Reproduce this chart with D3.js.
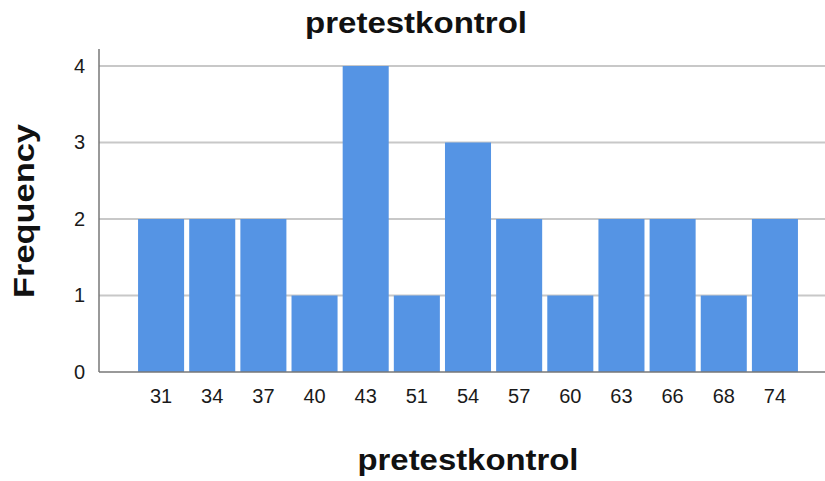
<!DOCTYPE html>
<html lang="en">
<head>
    <meta charset="UTF-8">
    <title>pretestkontrol</title>
    <script src="https://d3js.org/d3.v7.min.js"></script>
    <style>
        body { margin: 0; background: #fff; font-family: Arial, "Liberation Sans", sans-serif; }
    </style>
</head>
<body>
    <div id="chart"></div>
    <script>
        // Data
        const scores = ["31", "34", "37", "40", "43", "51", "54", "57", "60", "63", "66", "68", "74"];
        const counts = [2, 2, 2, 1, 4, 1, 3, 2, 1, 2, 2, 1, 2];
        const yTicks = [0, 1, 2, 3, 4];

        const W = 825, H = 481;
        const svg = d3.select("#chart").append("svg")
            .attr("width", W)
            .attr("height", H);

        // Scales
        const x = d3.scaleBand().domain(scores).range([135.5, 800.5]).paddingInner(0.1).paddingOuter(0.05);
        const y = d3.scaleLinear().domain([0, 4]).range([372, 66]);
        const axisX = 99;

        // Gridlines
        svg.append("g")
            .selectAll("line")
            .data(yTicks.filter(d => d > 0))
            .join("line")
            .attr("x1", axisX)
            .attr("x2", W)
            .attr("y1", d => y(d))
            .attr("y2", d => y(d))
            .style("stroke", "#c8c8c8")
            .style("stroke-width", 2);

        // Bars
        svg.append("g")
            .selectAll("rect")
            .data(counts)
            .join("rect")
            .attr("x", (d, i) => x(scores[i]))
            .attr("y", d => y(d))
            .attr("width", x.bandwidth())
            .attr("height", d => y(0) - y(d))
            .style("fill", "#5594e4");

        // Y axis
        const yAxis = svg.append("g")
            .attr("transform", `translate(${axisX},0)`)
            .call(d3.axisLeft(y).tickValues(yTicks).tickFormat(d3.format("d")).tickSize(0).tickPadding(14));
        yAxis.select(".domain").remove();
        yAxis.selectAll("text").style("font-size", "20px").style("font-family", "Arial").style("fill", "#1a1a1a");
        svg.append("line")
            .attr("x1", axisX).attr("x2", axisX)
            .attr("y1", 49).attr("y2", y(0))
            .style("stroke", "#777").style("stroke-width", 1.5);

        // X axis
        const xAxis = svg.append("g")
            .attr("transform", `translate(0,${y(0)})`)
            .call(d3.axisBottom(x).tickSize(0).tickPadding(17));
        xAxis.select(".domain").remove();
        xAxis.selectAll("text").style("font-size", "20px").style("font-family", "Arial").style("fill", "#1a1a1a");
        svg.append("line")
            .attr("x1", axisX).attr("x2", W)
            .attr("y1", y(0)).attr("y2", y(0))
            .style("stroke", "#777").style("stroke-width", 1.5);

        // Titles
        svg.append("text")
            .attr("x", 416).attr("y", 33)
            .attr("text-anchor", "middle")
            .attr("textLength", 222).attr("lengthAdjust", "spacingAndGlyphs")
            .style("font-size", "30px").style("font-weight", "bold").style("fill", "#111")
            .text("pretestkontrol");

        svg.append("text")
            .attr("x", 468).attr("y", 470)
            .attr("text-anchor", "middle")
            .attr("textLength", 221).attr("lengthAdjust", "spacingAndGlyphs")
            .style("font-size", "30px").style("font-weight", "bold").style("fill", "#111")
            .text("pretestkontrol");

        svg.append("text")
            .attr("transform", "translate(34,211) rotate(-90)")
            .attr("text-anchor", "middle")
            .attr("textLength", 174).attr("lengthAdjust", "spacingAndGlyphs")
            .style("font-size", "30px").style("font-weight", "bold").style("fill", "#111")
            .text("Frequency");
    </script>
</body>
</html>
